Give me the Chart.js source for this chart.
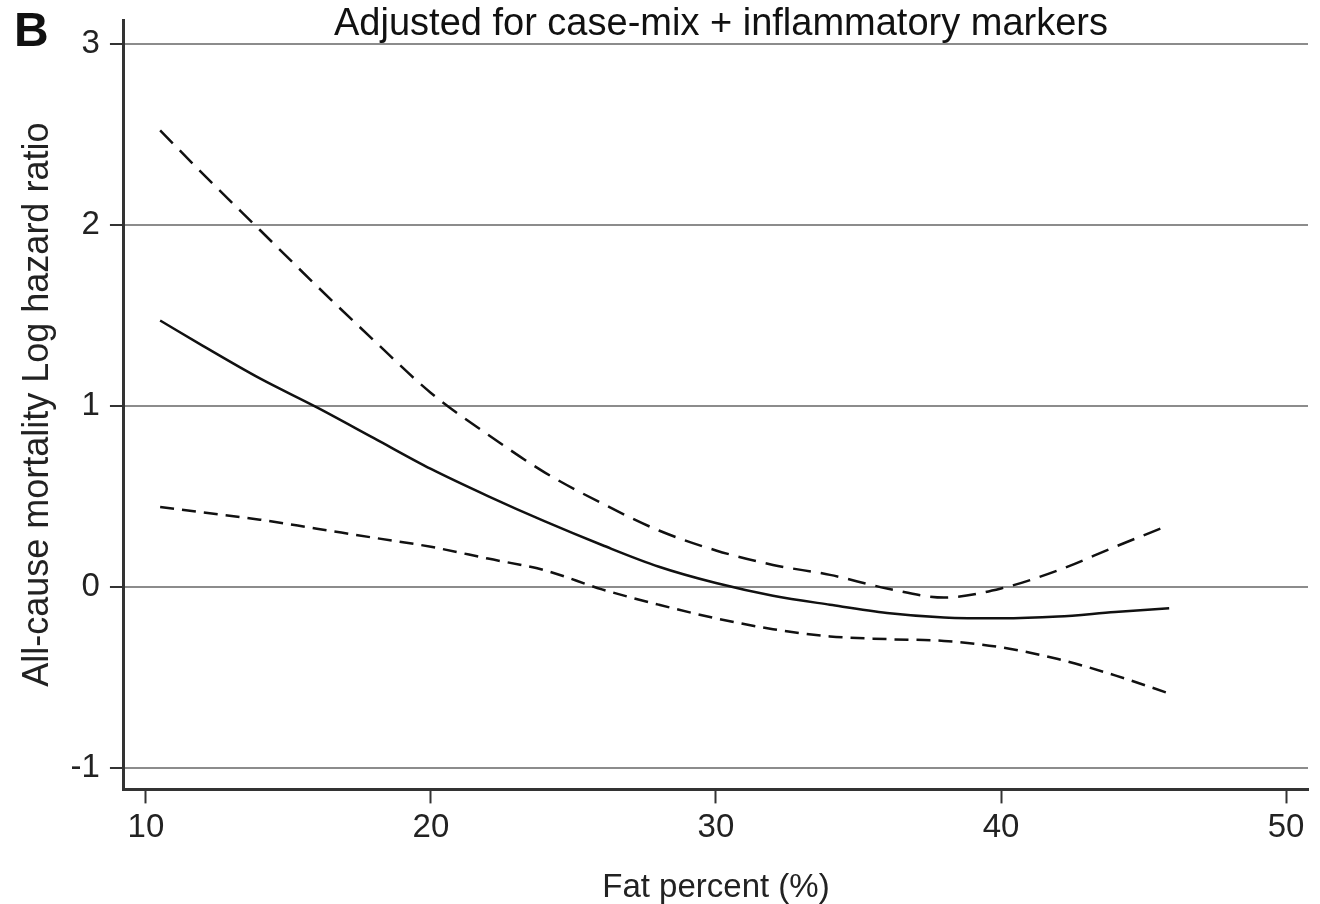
<!DOCTYPE html>
<html>
<head>
<meta charset="utf-8">
<script src="https://cdn.jsdelivr.net/npm/chart.js@4.4.1/dist/chart.umd.min.js"></script>
<style>
  html, body { margin: 0; padding: 0; background: #fff; }
  #wrap { width: 1320px; height: 904px; }
</style>
</head>
<body>
<div id="wrap"><canvas id="myChart" width="1320" height="904"></canvas></div>
<script>
// values (fat percent vs log hazard ratio)
let fatPct = [10.5, 12, 14, 16, 18, 20, 22, 24, 26, 28, 30, 32, 34, 36, 38, 40, 42, 44, 45.9];
let logHR = [1.47, 1.33, 1.15, 0.99, 0.82, 0.65, 0.50, 0.36, 0.23, 0.11, 0.02, -0.05, -0.10, -0.145, -0.17, -0.175, -0.165, -0.14, -0.12];
let upperCI = [2.52, 2.28, 1.97, 1.66, 1.36, 1.07, 0.84, 0.63, 0.46, 0.31, 0.20, 0.12, 0.065, -0.01, -0.06, -0.01, 0.09, 0.22, 0.34];
let lowerCI = [0.44, 0.41, 0.37, 0.32, 0.27, 0.22, 0.155, 0.09, -0.015, -0.10, -0.175, -0.235, -0.275, -0.29, -0.30, -0.335, -0.40, -0.49, -0.59];

let xTicks = [10, 20, 30, 40, 50];
let yTicks = [-1, 0, 1, 2, 3];

let chartTitle = 'Adjusted for case-mix + inflammatory markers';
let panelLabel = 'B';
let xTitle = 'Fat percent (%)';
let yTitle = 'All-cause mortality Log hazard ratio';

let fontFamily = '"Liberation Sans", Arial, Helvetica, sans-serif';

function toPoints(ys) {
    let pts = [];
    for (let i = 0; i < fatPct.length; i++) {
        pts.push({ x: fatPct[i], y: ys[i] });
    }
    return pts;
}

// panel letter + title drawn over the plot like in the figure
let labelsPlugin = {
    id: 'panelText',
    afterDraw(chart) {
        let ctx = chart.ctx;
        ctx.save();
        ctx.fillStyle = '#111';
        ctx.textBaseline = 'alphabetic';
        ctx.textAlign = 'left';
        ctx.font = 'bold 48px ' + fontFamily;
        ctx.fillText(panelLabel, 14, 46);
        ctx.textAlign = 'center';
        ctx.font = '38px ' + fontFamily;
        ctx.fillText(chartTitle, 721, 35);
        ctx.restore();
    }
};

let ctx = document.getElementById('myChart').getContext('2d');
let myChart = new Chart(ctx, {
    type: 'scatter',
    data: {
        datasets: [{
            label: 'Log hazard ratio',
            data: toPoints(logHR),
            showLine: true,
            borderColor: '#111',
            borderWidth: 2.5,
            pointRadius: 0,
            cubicInterpolationMode: 'monotone'
        }, {
            label: 'Upper 95% CI',
            data: toPoints(upperCI),
            showLine: true,
            borderColor: '#111',
            borderWidth: 2.5,
            borderDash: [18, 10],
            pointRadius: 0,
            cubicInterpolationMode: 'monotone'
        }, {
            label: 'Lower 95% CI',
            data: toPoints(lowerCI),
            showLine: true,
            borderColor: '#111',
            borderWidth: 2.5,
            borderDash: [14, 8],
            pointRadius: 0,
            cubicInterpolationMode: 'monotone'
        }]
    },
    options: {
        responsive: false,
        animation: false,
        layout: {
            padding: { top: 20, right: 12, left: 18, bottom: 0 }
        },
        plugins: {
            legend: { display: false },
            tooltip: { enabled: false },
            title: { display: false }
        },
        scales: {
            x: {
                type: 'linear',
                min: 9.23,
                max: 50.77,
                afterBuildTicks: axis => { axis.ticks = xTicks.map(v => ({ value: v })); },
                grid: {
                    drawOnChartArea: false,
                    drawTicks: true,
                    tickLength: 14,
                    tickColor: '#333',
                    tickWidth: 2
                },
                border: { display: true, color: '#333', width: 3 },
                ticks: {
                    color: '#222',
                    padding: 5,
                    maxRotation: 0,
                    font: { family: fontFamily, size: 33 }
                },
                title: {
                    display: true,
                    text: xTitle,
                    color: '#222',
                    padding: { top: 18, bottom: 0 },
                    font: { family: fontFamily, size: 33, lineHeight: 1 }
                }
            },
            y: {
                min: -1.12,
                max: 3.13,
                afterBuildTicks: axis => { axis.ticks = yTicks.map(v => ({ value: v })); },
                afterFit: axis => { axis.paddingTop = 0; axis.paddingBottom = 0; },
                grid: {
                    color: '#8c8c8c',
                    lineWidth: 2,
                    drawTicks: true,
                    tickLength: 14,
                    tickColor: '#333',
                    tickWidth: 2
                },
                border: { display: true, color: '#333', width: 3 },
                ticks: {
                    color: '#222',
                    padding: 10,
                    font: { family: fontFamily, size: 33 }
                },
                title: {
                    display: true,
                    text: yTitle,
                    color: '#222',
                    padding: { top: 0, bottom: 3 },
                    font: { family: fontFamily, size: 36, lineHeight: 1.1 }
                }
            }
        }
    },
    plugins: [labelsPlugin]
});
</script>
</body>
</html>
